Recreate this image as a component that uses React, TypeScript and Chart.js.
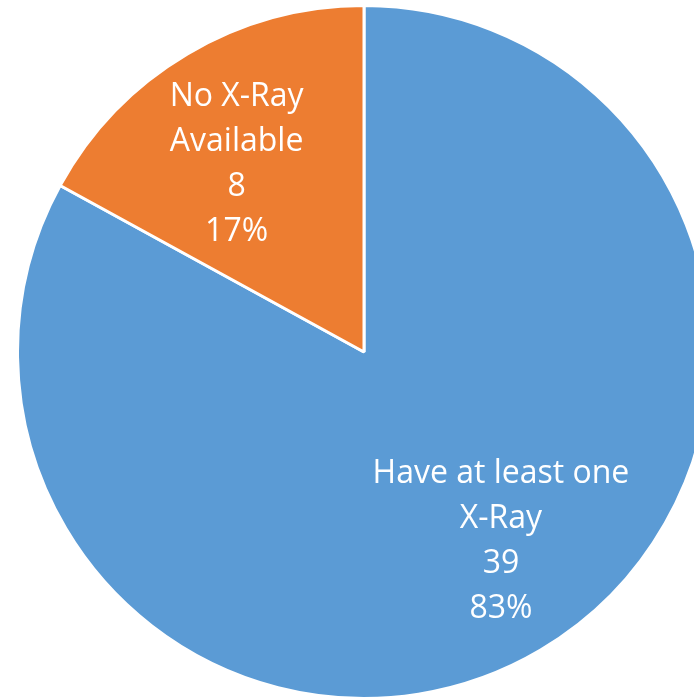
import React, { useEffect, useRef } from "react";
import { Chart, registerables } from "chart.js";

Chart.register(...registerables);

const categories = ["Have at least one X-Ray", "No X-Ray Available"];
const labelLines = [["Have at least one", "X-Ray"], ["No X-Ray", "Available"]];
const values = [39, 8];
const percents = ["83%", "17%"];
const colors = ["#5B9BD5", "#ED7D31"];

// label placement: [angle offset (deg from arc middle), radius fraction]
const labelPlacement = [
  [-5.2, 0.675],
  [-3.5, 0.655],
];

const labelPlugin = {
  id: "sliceLabels",
  afterDatasetsDraw(chart: any) {
    const ctx = chart.ctx;
    const meta = chart.getDatasetMeta(0);
    ctx.save();
    ctx.fillStyle = "#ffffff";
    ctx.textAlign = "center";
    ctx.textBaseline = "middle";
    ctx.font = "32px 'Open Sans'";
    const lineH = 45;
    meta.data.forEach((arc: any, i: number) => {
      const p = arc.getProps(["x", "y", "startAngle", "endAngle", "outerRadius"], true);
      const mid = (p.startAngle + p.endAngle) / 2 + (labelPlacement[i][0] * Math.PI) / 180;
      const r = p.outerRadius * labelPlacement[i][1];
      const cx = p.x + Math.cos(mid) * r;
      const cy = p.y + Math.sin(mid) * r;
      const lines = [...labelLines[i], String(values[i]), percents[i]];
      const y0 = cy - ((lines.length - 1) * lineH) / 2;
      lines.forEach((t, k) => ctx.fillText(t, cx, y0 + k * lineH));
    });
    ctx.restore();
  },
};

export default function App() {
  const ref = useRef<HTMLCanvasElement>(null);
  useEffect(() => {
    if (!ref.current) return;
    const chart = new Chart(ref.current, {
      type: "pie",
      data: {
        labels: categories,
        datasets: [
          {
            data: values,
            backgroundColor: colors,
            borderColor: "#ffffff",
            borderWidth: 3,
          },
        ],
      },
      options: {
        responsive: false,
        animation: false,
        layout: { padding: 0 },
        plugins: {
          legend: { display: false },
          tooltip: { enabled: false },
        },
      },
      plugins: [labelPlugin],
    });
    return () => chart.destroy();
  }, []);
  return (
    <div
      style={{
        position: "fixed",
        left: 0,
        top: 0,
        width: 694,
        height: 697,
        overflow: "hidden",
        background: "#ffffff",
      }}
    >
      <canvas
        ref={ref}
        width={696}
        height={696}
        style={{ position: "absolute", left: 16, top: 4, width: 696, height: 696 }}
      />
    </div>
  );
}
